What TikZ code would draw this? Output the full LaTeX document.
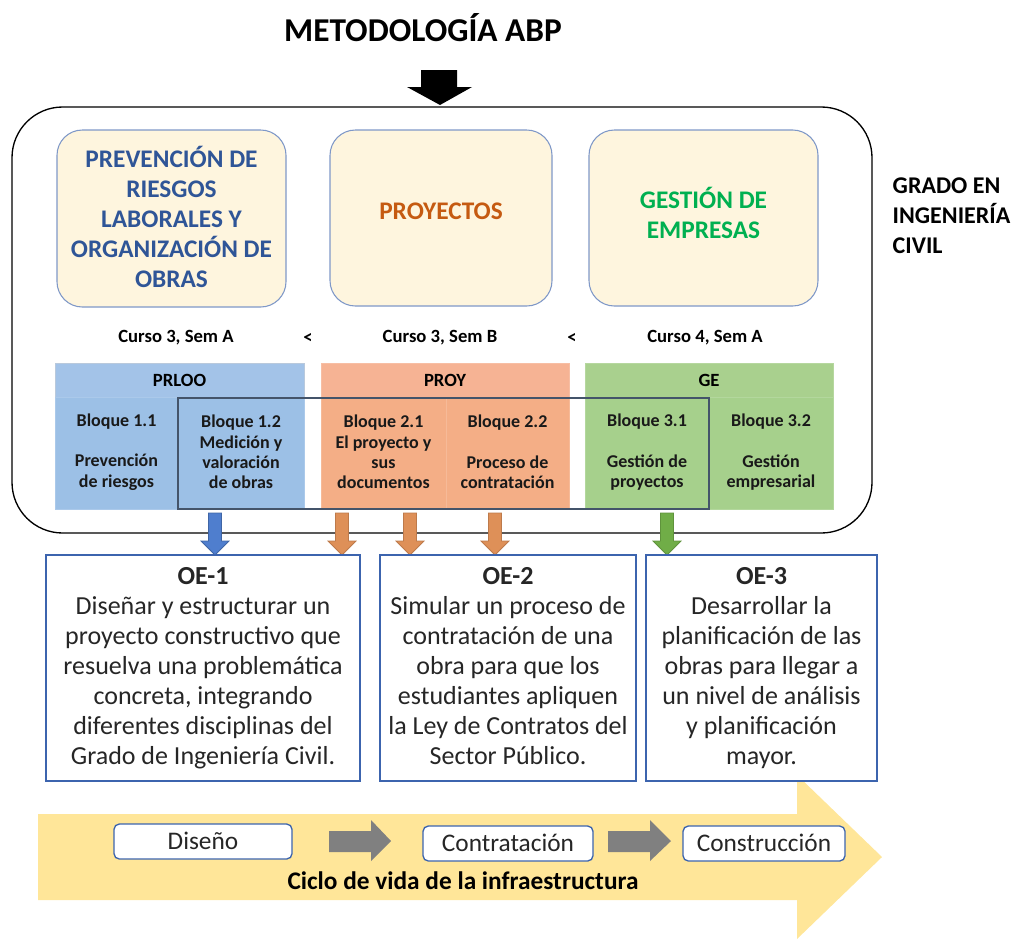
\documentclass[tikz,border=0pt]{standalone}
\usepackage{fontspec}
\setmainfont{Carlito}
\definecolor{boxfill}{HTML}{FEF5DE}
\definecolor{boxline}{HTML}{7F98C8}
\definecolor{tblue}{HTML}{2F5597}
\definecolor{torange}{HTML}{C55A11}
\definecolor{tgreen}{HTML}{00B050}
\definecolor{bhead}{HTML}{A3C3E8}
\definecolor{bbody}{HTML}{9CC0E6}
\definecolor{ohead}{HTML}{F6B394}
\definecolor{obody}{HTML}{F4AE86}
\definecolor{ghead}{HTML}{A9D08E}
\definecolor{gbody}{HTML}{A6D08C}
\definecolor{slate}{HTML}{44546A}
\definecolor{oeline}{HTML}{3C64AE}
\definecolor{ylw}{HTML}{FFE699}
\definecolor{arrblue}{HTML}{4F7ECE}
\definecolor{arrorange}{HTML}{DE9058}
\definecolor{arrgreen}{HTML}{70AD47}
\tikzset{
  topbox/.style={draw=boxline, fill=boxfill, line width=0.8pt, rounded corners=19pt},
  toptxt/.style={align=center, font=\bfseries\fontsize{19}{22.5}\selectfont},
  curso/.style={font=\bfseries\fontsize{14}{16}\selectfont},
  hdr/.style={font=\bfseries\fontsize{14}{16}\selectfont},
  celltxt/.style={align=center, font=\bfseries\fontsize{13.5}{15.2}\selectfont, text=black!90},
  oebox/.style={draw=oeline, fill=white, line width=0.8pt},
  oetxt/.style={align=center, font=\fontsize{19.5}{22.5}\selectfont, text=black!85},
  lifebox/.style={draw=oeline, fill=white, line width=1pt, rounded corners=4pt},
  lifetxt/.style={font=\fontsize{19}{22}\selectfont, text=black!85},
}
\newcommand\downarrowblk[3]{% x, color fill, color line
  \draw[fill=#2, draw=#3, line width=0.6pt]
    ({#1-6.5},513) -- ({#1+6.5},513) -- ({#1+6.5},541) -- ({#1+14},541)
    -- (#1,555) -- ({#1-14},541) -- ({#1-6.5},541) -- cycle;}
\begin{document}
\begin{tikzpicture}[x=0.75pt,y=-0.75pt]
\useasboundingbox (0,0) rectangle (1019,939);

% title
\node[font=\bfseries\fontsize{25}{28}\selectfont] (title) at (423,28) {METODOLOGÍA ABP};
\fill[black] (421,70) -- (457,70) -- (457,87) -- (472,87) -- (440,105) -- (407,87) -- (421,87) -- cycle;

% main rounded box
\draw[line width=1pt, rounded corners=38pt] (12,107) rectangle (872,533);
\node[anchor=west, align=left, font=\bfseries\fontsize{18}{22.5}\selectfont] (grado) at (888,216) {GRADO EN\\INGENIERÍA\\CIVIL};

% top boxes
\draw[topbox] (57,130) rectangle (286,307);
\node[toptxt, text=tblue] (prl) at (171.5,217) {PREVENCIÓN DE\\RIESGOS\\LABORALES Y\\ORGANIZACIÓN DE\\OBRAS};
\draw[topbox] (330,130) rectangle (552,306);
\node[toptxt, text=torange] (proy) at (441,211) {PROYECTOS};
\draw[topbox] (589,130) rectangle (818,306);
\node[toptxt, text=tgreen] (ge) at (703.5,213) {GESTIÓN DE\\EMPRESAS};

% curso labels
\node[curso] (c1) at (176,338) {Curso 3, Sem A};
\node[curso] (lt1) at (308,338) {<};
\node[curso] (c2) at (440,338) {Curso 3, Sem B};
\node[curso] (lt2) at (572,338) {<};
\node[curso] (c3) at (705,338) {Curso 4, Sem A};

% blocks - blue
\draw[fill=bhead, draw=bhead!85!black!60!white, line width=0.5pt] (55,363) rectangle (304,397);
\draw[fill=bbody, draw=bbody!85!white, line width=0.5pt] (55,397) rectangle (178,509);
\draw[fill=bbody, draw=bbody!85!white, line width=0.5pt] (178,397) rectangle (304,509);
% orange
\draw[fill=ohead, draw=ohead!85!white, line width=0.5pt] (321,363) rectangle (569,397);
\draw[fill=obody, draw=obody!85!white, line width=0.5pt] (321,397) rectangle (446,509);
\draw[fill=obody, draw=obody!85!white, line width=0.5pt] (446,397) rectangle (569,509);
% green
\draw[fill=ghead, draw=ghead!85!white, line width=0.5pt] (585,363) rectangle (833,397);
\draw[fill=gbody, draw=gbody!85!white, line width=0.5pt] (585,397) rectangle (709,509);
\draw[fill=gbody, draw=gbody!85!white, line width=0.5pt] (709,397) rectangle (833,509);

\node[hdr] (hprloo) at (179.5,380) {PRLOO};
\node[hdr] (hproy) at (445,380) {PROY};
\node[hdr] (hge) at (709,380) {GE};

\node[celltxt] (b11) at (116.5,452) {Bloque 1.1\\\mbox{}\\Prevención\\de riesgos};
\node[celltxt] (b12) at (241,452) {Bloque 1.2\\Medición y\\valoración\\de obras};
\node[celltxt] (b21) at (383.5,452) {Bloque 2.1\\El proyecto y\\sus\\documentos};
\node[celltxt] (b22) at (507.5,452) {Bloque 2.2\\\mbox{}\\Proceso de\\contratación};
\node[celltxt] (b31) at (647,452) {Bloque 3.1\\\mbox{}\\Gestión de\\proyectos};
\node[celltxt] (b32) at (771,452) {Bloque 3.2\\\mbox{}\\Gestión\\empresarial};

% dark frame
\draw[slate, line width=2.2pt] (178,398) rectangle (709,509);

% block arrows
\downarrowblk{215}{arrblue}{arrblue!80!black}
\downarrowblk{342}{arrorange}{arrorange!85!black}
\downarrowblk{410}{arrorange}{arrorange!85!black}
\downarrowblk{495}{arrorange}{arrorange!85!black}
\downarrowblk{667}{arrgreen}{arrgreen!85!black}

% yellow life-cycle arrow
\fill[ylw] (38,814) -- (797,814) -- (797,775) -- (882,857) -- (797,939) -- (797,900) -- (38,900) -- cycle;

% OE boxes
\draw[oebox] (46,555) rectangle (360,781);
\node[oetxt] (oe1) at (203,668) {\strut\textbf{OE-1}\\Diseñar y estructurar un\\proyecto constructivo que\\resuelva una problemática\\concreta, integrando\\diferentes disciplinas del\\Grado de Ingeniería Civil.\strut};
\draw[oebox] (380,555) rectangle (636,781);
\node[oetxt] (oe2) at (508,668) {\strut\textbf{OE-2}\\Simular un proceso de\\contratación de una\\obra para que los\\estudiantes apliquen\\la Ley de Contratos del\\Sector Público.\strut};
\draw[oebox] (646,555) rectangle (877,781);
\node[oetxt] (oe3) at (761.5,668) {\strut\textbf{OE-3}\\Desarrollar la\\planificación de las\\obras para llegar a\\un nivel de análisis\\y planificación\\mayor.\strut};

% life cycle boxes
\draw[lifebox] (114,824) rectangle (292,859);
\node[lifetxt] (dis) at (203,841) {Diseño};
\draw[lifebox] (423,826) rectangle (593,861);
\node[lifetxt] (con) at (508,843) {Contratación};
\draw[lifebox] (683,826) rectangle (845,861);
\node[lifetxt] (cons) at (764,843) {Construcción};

% grey arrows
\fill[black!50] (329,831) -- (371,831) -- (371,820) -- (391,841) -- (371,861) -- (371,852) -- (329,852) -- cycle;
\fill[black!50] (608,831) -- (650,831) -- (650,820) -- (671,841) -- (650,861) -- (650,852) -- (608,852) -- cycle;

\node[font=\bfseries\fontsize{19}{22}\selectfont] (ciclo) at (463,881) {Ciclo de vida de la infraestructura};
\end{tikzpicture}
\end{document}
